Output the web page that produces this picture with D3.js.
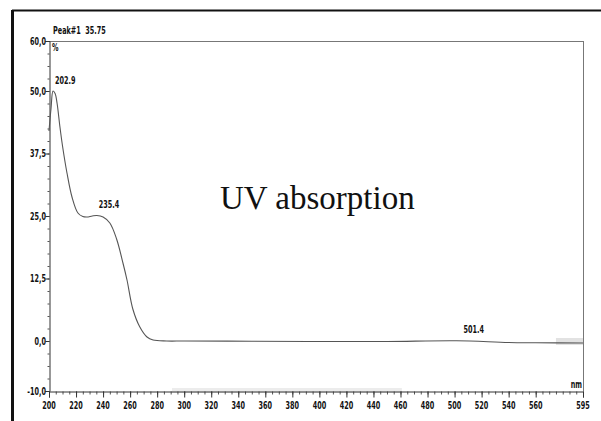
<!DOCTYPE html>
<html><head><meta charset="utf-8">
<script src="https://cdn.jsdelivr.net/npm/d3@7"></script>
<style>
html,body{margin:0;padding:0;background:#fff;}
svg{display:block;}
.sm{font-family:"Liberation Sans Narrow","DejaVu Sans Condensed",sans-serif;font-size:10px;fill:#111;font-weight:bold;white-space:pre;}
</style></head>
<body>
<svg id="c" width="601" height="421"></svg>
<script>
// ---- data ----
const wavelength = [200,201.5,203,204.5,206,208,210,213.3,217,221.4,225,228,232,235.4,240,245,250,254.7,257.7,262,267,272.5,277,287,300,350,400,450,501.4,540,560,595];
const absorbance = [42,46.5,50,49.5,47.5,43,39,33.6,28.8,25.6,24.9,24.8,25.0,25.1,24.8,23.6,20.4,15.6,12.2,6.4,2.9,0.8,0.2,0,0,-0.05,-0.1,-0.1,0.05,-0.3,-0.35,-0.4];
const yTickValues = [60,50,37.5,25,12.5,0,-10];
const yTickLabels = ["60,0","50,0","37,5","25,0","12,5","0,0","-10,0"];
const xTickValues = [200,220,240,260,280,300,320,340,360,380,400,420,440,460,480,500,520,540,560,595];
const xTickLabels = ["200","220","240","260","280","300","320","340","360","380","400","420","440","460","480","500","520","540","560","595"];
const peakWl = [202.9,235.4,501.4];
const peakLabels = ["202.9","235.4","501.4"];
const headerText = "Peak#1  35.75";
const unitY = "%";
const unitX = "nm";
const title = "UV absorption";

const svg = d3.select("#c");
const W = 601, H = 421;
const m = {left:49, right:583, top:41, bottom:391};
const x = d3.scaleLinear().domain([200,595]).range([m.left,m.right]);
const y = d3.scaleLinear().domain([-10,60]).range([m.bottom,m.top]);
const SX = 0.72;

function smallText(px, py, txt, anchor){
  return svg.append("text").attr("class","sm")
    .attr("transform",`translate(${px},${py}) scale(${SX},1)`)
    .attr("text-anchor",anchor||"start").text(txt);
}

// outer scan frame
svg.append("line").attr("x1",12.5).attr("x2",12.5).attr("y1",10).attr("y2",H).attr("stroke","#111").attr("stroke-width",3);
svg.append("line").attr("x1",12).attr("x2",W).attr("y1",10.5).attr("y2",10.5).attr("stroke","#111").attr("stroke-width",2);

// scan smudges
svg.append("rect").attr("x",x(575)).attr("y",y(0)-3).attr("width",x(595)-x(575)).attr("height",7).attr("fill","#e2e2e2");
svg.append("rect").attr("x",x(291)).attr("y",y(-10)-3).attr("width",x(461)-x(291)).attr("height",5).attr("fill","#ececec");

// plot frame (top & right)
svg.append("line").attr("x1",m.left).attr("x2",m.right).attr("y1",m.top+0.5).attr("y2",m.top+0.5).attr("stroke","#777").attr("stroke-width",1);
svg.append("line").attr("x1",m.right+0.5).attr("x2",m.right+0.5).attr("y1",m.top).attr("y2",m.bottom).attr("stroke","#777").attr("stroke-width",1);

// y axis
const yMinor = d3.range(-10,60.01,2.5);
const gy = svg.append("g").attr("transform",`translate(${m.left+0.5},0)`);
gy.call(d3.axisLeft(y).tickValues(yMinor).tickSize(2).tickFormat(""));
gy.call(g=>g.select(".domain").remove());
const gy2 = svg.append("g").attr("transform",`translate(${m.left+0.5},0)`);
gy2.call(d3.axisLeft(y).tickValues(yTickValues).tickSize(4).tickFormat(""));
gy.selectAll("line").attr("stroke","#555");
gy2.selectAll("line").attr("stroke","#333");
gy2.select(".domain").attr("stroke","#333");
yTickValues.forEach((v,i)=>smallText(m.left-3, y(v)+3.5, yTickLabels[i], "end"));

// x axis
const xMinor = d3.range(200,595.01,5);
const gx = svg.append("g").attr("transform",`translate(0,${m.bottom+0.5})`);
gx.call(d3.axisBottom(x).tickValues(xMinor).tickSize(3).tickFormat(""));
gx.call(g=>g.select(".domain").remove());
const gx2 = svg.append("g").attr("transform",`translate(0,${m.bottom+0.5})`);
gx2.call(d3.axisBottom(x).tickValues(xTickValues).tickSize(6).tickFormat(""));
gx.selectAll("line").attr("stroke","#555");
gx2.selectAll("line").attr("stroke","#333");
gx2.select(".domain").attr("stroke","#333");
xTickValues.forEach((v,i)=>smallText(x(v), m.bottom+18, xTickLabels[i], "middle"));

// units & header
smallText(m.left+3, m.top+10, unitY, "start");
smallText(m.right-1, m.bottom-3, unitX, "end");
smallText(m.left+4, m.top-7, headerText, "start");

// curve
const pts = wavelength.map((w,i)=>[w,absorbance[i]]);
const line = d3.line().x(d=>x(d[0])).y(d=>y(d[1])).curve(d3.curveCatmullRom.alpha(0.5));
svg.append("path").datum(pts).attr("d",line).attr("fill","none").attr("stroke","#555").attr("stroke-width",1.1);

// peak labels
const interp = w=>{ for(let i=1;i<wavelength.length;i++){ if(w<=wavelength[i]){const t=(w-wavelength[i-1])/(wavelength[i]-wavelength[i-1]);return absorbance[i-1]+t*(absorbance[i]-absorbance[i-1]);}} return absorbance[absorbance.length-1]; };
peakWl.forEach((w,i)=>smallText(x(w)+2 + (w>400?5:0), y(interp(w))-8, peakLabels[i], "start"));

// title
svg.append("text").attr("x",220).attr("y",209)
  .attr("font-family","'Liberation Serif','Times New Roman',serif").attr("font-size",33).attr("fill","#111")
  .text(title);
</script>
</body></html>
